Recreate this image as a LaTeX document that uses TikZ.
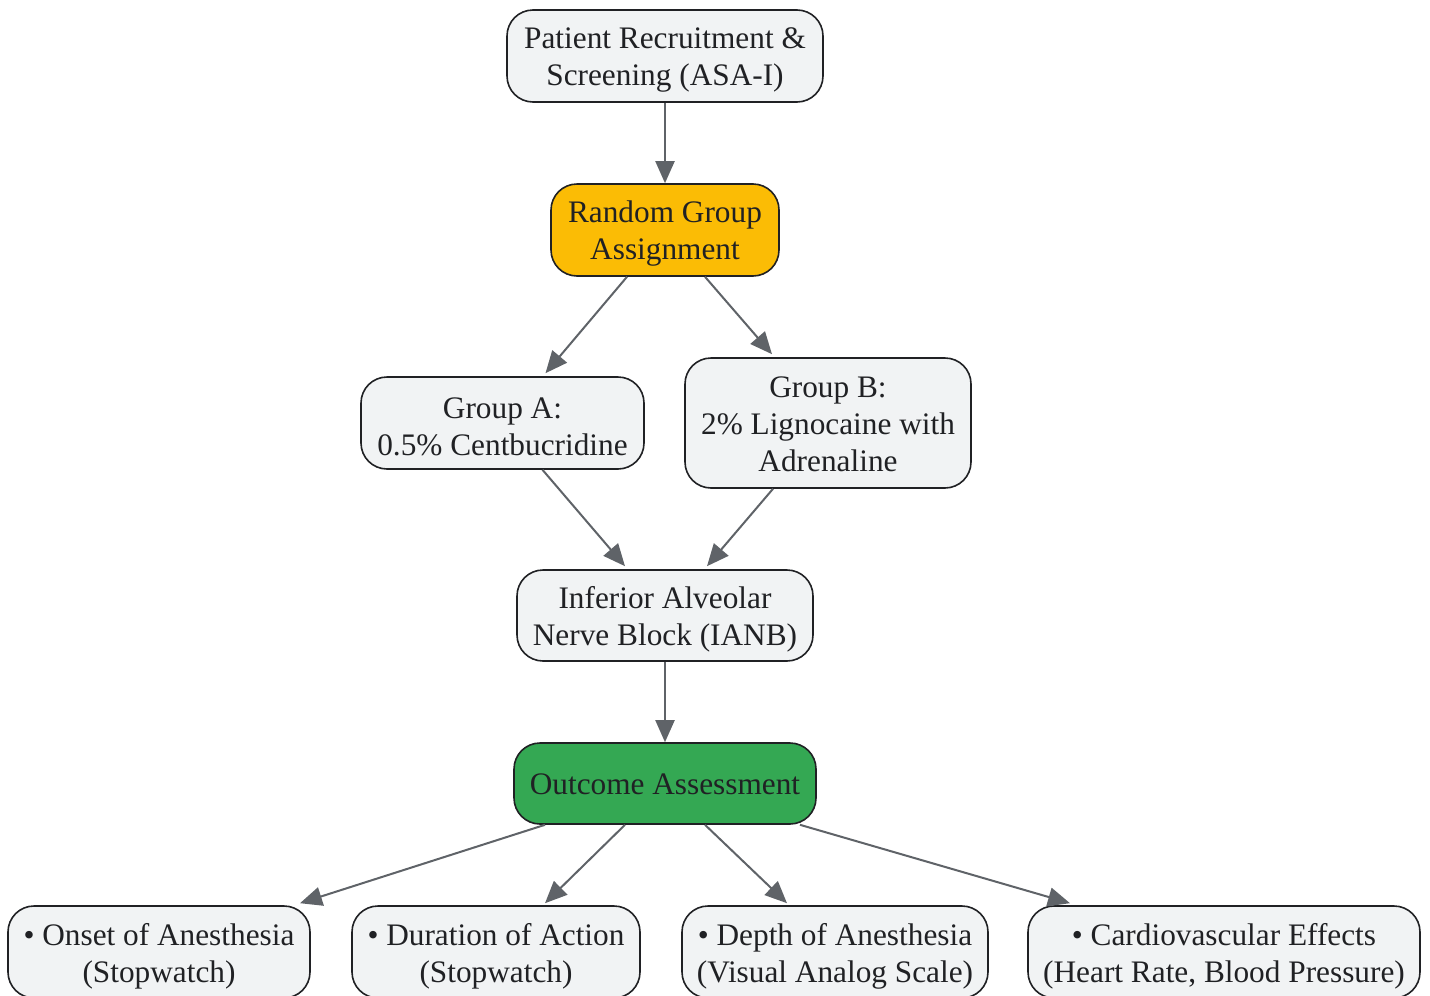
\documentclass[tikz,border=0pt]{standalone}
\usepackage{fontspec}
\setmainfont{Liberation Serif}
\usetikzlibrary{arrows.meta}
\definecolor{boxgrey}{RGB}{241,243,244}
\definecolor{edgegrey}{RGB}{95,99,104}
\definecolor{txt}{RGB}{32,33,36}
\definecolor{gold}{RGB}{251,188,5}
\definecolor{gr}{RGB}{52,168,83}
\tikzset{
  box/.style={draw=txt, line width=1.6pt, rounded corners=26pt, fill=boxgrey,
    inner sep=0pt},
  lab/.style={text=txt, align=center, inner sep=0pt, yshift=-4pt,
    font=\fontsize{31.3}{37}\selectfont},
  t/.style={label={[lab]center:{#1}}},
  ts/.style={label={[lab,yshift=3pt]center:{#1}}},
  conn/.style={draw=edgegrey, line width=2pt, -{Triangle[length=22pt,width=19pt]}}
}
\begin{document}
\begin{tikzpicture}[x=1pt,y=-1pt]
\useasboundingbox (0,0) rectangle (1430,996);
\node[box, minimum width=316, minimum height=92, t={Patient Recruitment \&\\Screening (ASA-I)}] (pat) at (665,56) {};
\node[box, fill=gold, minimum width=228, minimum height=92, t={Random Group\\Assignment}] (rand) at (665,230) {};
\node[box, minimum width=283, minimum height=92, t={Group A:\\0.5\% Centbucridine}] (ga) at (502.5,423) {};
\node[box, minimum width=286, minimum height=130, ts={Group B:\\2\% Lignocaine with\\Adrenaline}] (gb) at (828,423) {};
\node[box, minimum width=296, minimum height=91, t={Inferior Alveolar\\Nerve Block (IANB)}] (ianb) at (665,615.5) {};
\node[box, fill=gr, minimum width=302, minimum height=81, ts={Outcome Assessment}] (out) at (665,783.5) {};
\node[box, minimum width=302, minimum height=92, t={\textbullet{} Onset of Anesthesia\\(Stopwatch)}] (on) at (159,952) {};
\node[box, minimum width=288, minimum height=92, t={\textbullet{} Duration of Action\\(Stopwatch)}] (du) at (496,952) {};
\node[box, minimum width=306, minimum height=92, t={\textbullet{} Depth of Anesthesia\\(Visual Analog Scale)}] (de) at (835,952) {};
\node[box, minimum width=392, minimum height=92, t={\textbullet{} Cardiovascular Effects\\(Heart Rate, Blood Pressure)}] (ca) at (1224,952) {};
\draw[conn] (pat.south) -- (rand.north);
\draw[conn] ([xshift=-38pt]rand.south) -- ([xshift=43pt,yshift=3pt]ga.north);
\draw[conn] ([xshift=40pt]rand.south) -- ([xshift=-56pt,yshift=3pt]gb.north);
\draw[conn] ([xshift=40pt]ga.south) -- ([xshift=-40pt,yshift=3pt]ianb.north);
\draw[conn] ([xshift=-55pt]gb.south) -- ([xshift=42pt,yshift=3pt]ianb.north);
\draw[conn] (ianb.south) -- (out.north);
\draw[conn] ([xshift=-120pt]out.south) -- ([xshift=141pt,yshift=2pt]on.north);
\draw[conn] ([xshift=-40pt]out.south) -- ([xshift=49pt,yshift=2pt]du.north);
\draw[conn] ([xshift=40pt]out.south) -- ([xshift=-48pt,yshift=2pt]de.north);
\draw[conn] ([xshift=135pt]out.south) -- ([xshift=-154pt,yshift=2pt]ca.north);
\end{tikzpicture}
\end{document}
